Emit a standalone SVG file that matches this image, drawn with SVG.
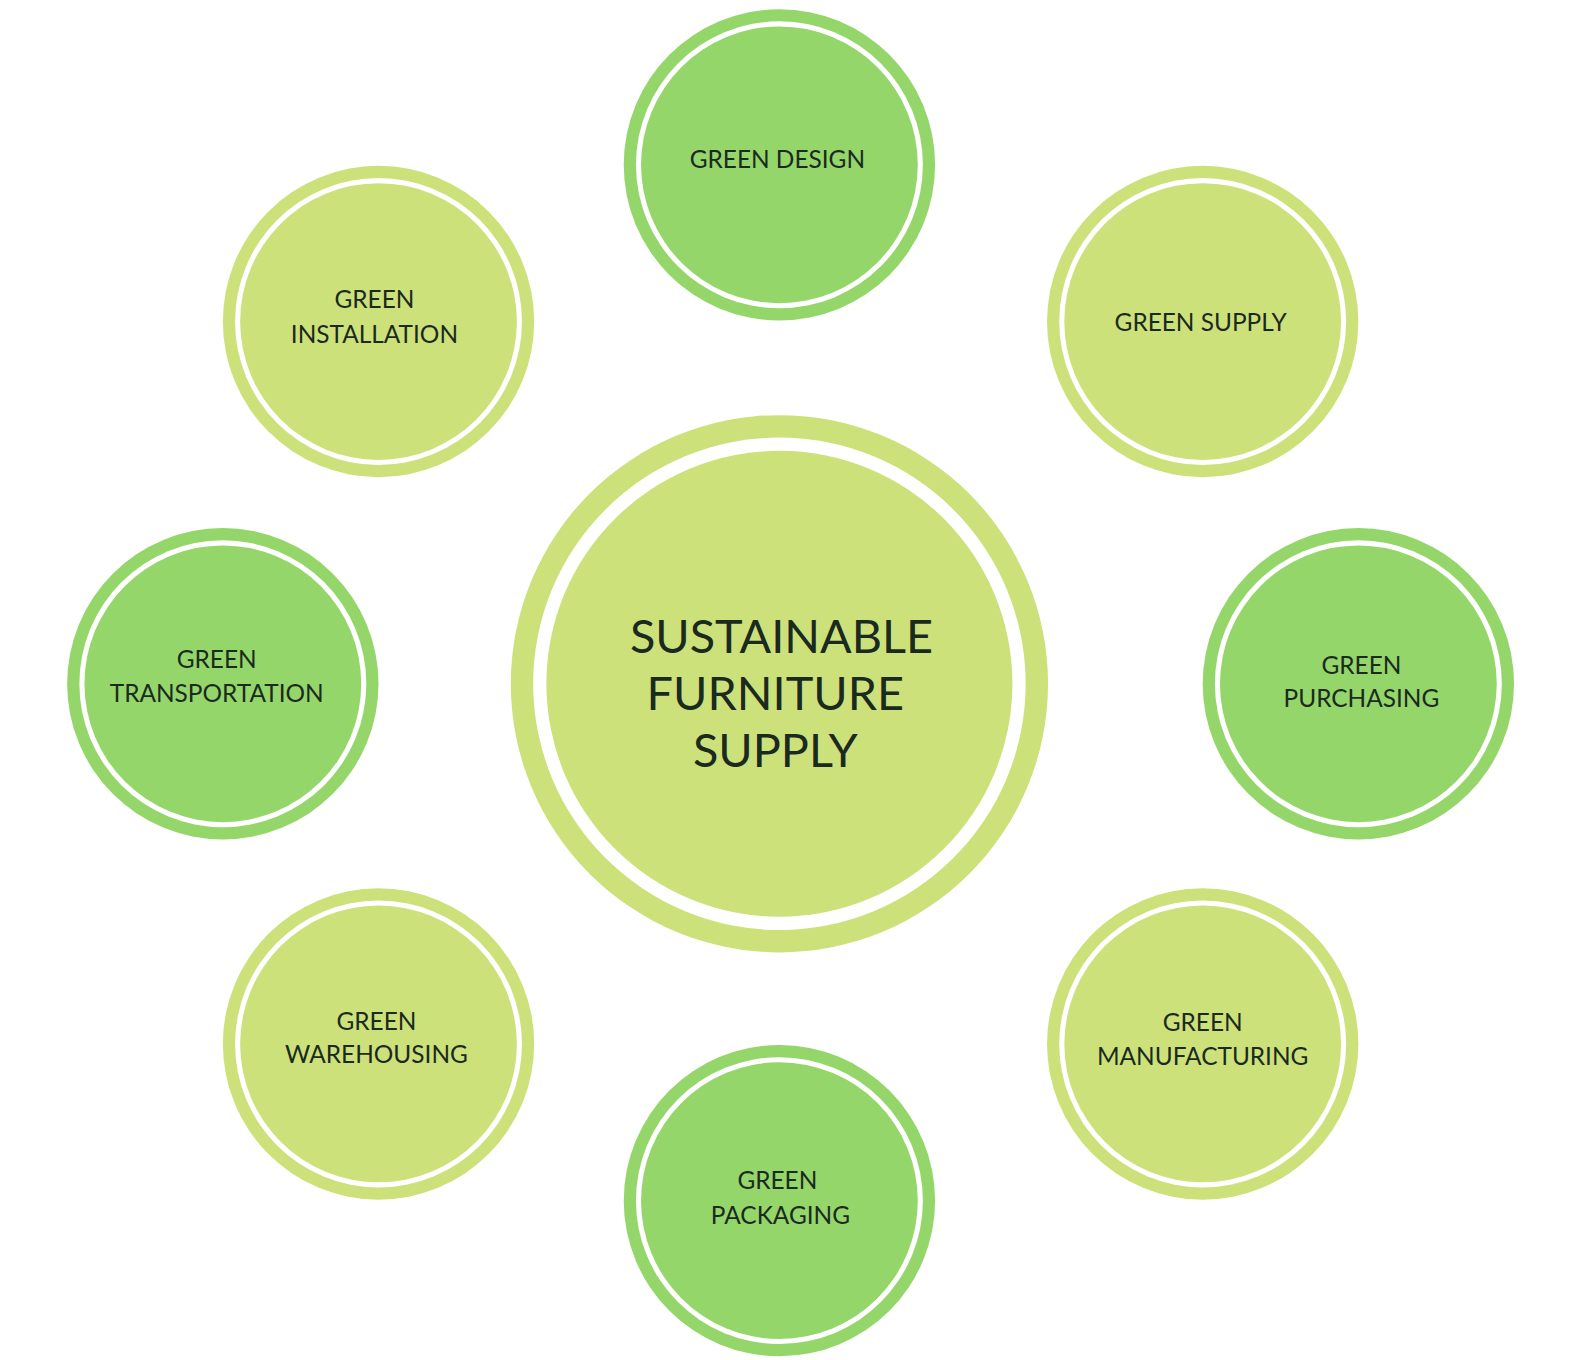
<svg xmlns="http://www.w3.org/2000/svg" width="1588" height="1360" viewBox="0 0 1588 1360">
<style>
.d{fill:#95D66B}.l{fill:#CDE17B}.w{fill:#fff}
text{font-family:Lato,"Open Sans",sans-serif;fill:#1B2A1E;text-anchor:middle;font-size:24px}
.big{font-size:46px}
</style>
<rect width="1588" height="1360" fill="#fff"/>
<g transform="scale(1.0175)">
<g id="connectors"/>
<g id="center"><circle class="l" cx="766" cy="672" r="264"/><circle class="w" cx="766" cy="672" r="242"/><circle class="l" cx="766" cy="672" r="229"/>
<text class="big" x="768" y="642">SUSTAINABLE</text><text class="big" x="762" y="698">FURNITURE</text><text class="big" x="762" y="754">SUPPLY</text></g>
<g id="design"><circle class="d" cx="766" cy="162" r="153"/><circle class="w" cx="766" cy="162" r="141"/><circle class="d" cx="766" cy="162" r="136"/><text x="764" y="165">GREEN DESIGN</text></g>
<g id="supply"><circle class="l" cx="1182" cy="316" r="153"/><circle class="w" cx="1182" cy="316" r="141"/><circle class="l" cx="1182" cy="316" r="136"/><text x="1180" y="325">GREEN SUPPLY</text></g>
<g id="installation"><circle class="l" cx="372" cy="316" r="153"/><circle class="w" cx="372" cy="316" r="141"/><circle class="l" cx="372" cy="316" r="136"/><text x="368" y="303">GREEN</text><text x="368" y="337">INSTALLATION</text></g>
<g id="transportation"><circle class="d" cx="219" cy="672" r="153"/><circle class="w" cx="219" cy="672" r="141"/><circle class="d" cx="219" cy="672" r="136"/><text x="213" y="657">GREEN</text><text x="213" y="690">TRANSPORTATION</text></g>
<g id="purchasing"><circle class="d" cx="1335" cy="672" r="153"/><circle class="w" cx="1335" cy="672" r="141"/><circle class="d" cx="1335" cy="672" r="136"/><text x="1338" y="662">GREEN</text><text x="1338" y="695">PURCHASING</text></g>
<g id="warehousing"><circle class="l" cx="372" cy="1026" r="153"/><circle class="w" cx="372" cy="1026" r="141"/><circle class="l" cx="372" cy="1026" r="136"/><text x="370" y="1012">GREEN</text><text x="370" y="1045">WAREHOUSING</text></g>
<g id="manufacturing"><circle class="l" cx="1182" cy="1026" r="153"/><circle class="w" cx="1182" cy="1026" r="141"/><circle class="l" cx="1182" cy="1026" r="136"/><text x="1182" y="1013">GREEN</text><text x="1182" y="1047">MANUFACTURING</text></g>
<g id="packaging"><circle class="d" cx="766" cy="1180" r="153"/><circle class="w" cx="766" cy="1180" r="141"/><circle class="d" cx="766" cy="1180" r="136"/><text x="764" y="1169">GREEN</text><text x="767" y="1203">PACKAGING</text></g>
</g>
</svg>
